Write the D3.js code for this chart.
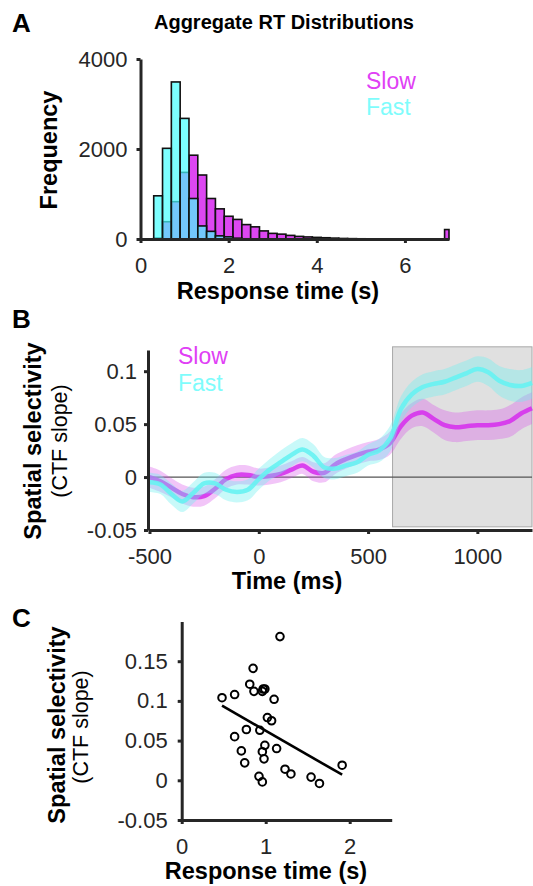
<!DOCTYPE html>
<html>
<head>
<meta charset="utf-8">
<script src="https://cdn.jsdelivr.net/npm/d3@7"></script>
<style>
  body { margin: 0; background: #fff; }
  svg { display: block; }
</style>
</head>
<body>
<div id="chart"></div>
<script>
// ---------- data ----------
// A: aggregate RT histogram, 0.2 s bins starting at 0.3 s (last bin holds RTs >= 6.9 s)
const binWidth = 0.2;
const binStarts = d3.range(0.3, 7, 0.2);
const slowCounts = [20, 384, 830, 1480, 1862, 1422, 900, 670, 505, 435, 320, 270, 180, 125, 108, 80, 58,
                    46, 36, 28, 20, 12, 8, 5, 4, 3, 2, 2, 1, 1, 1, 0, 0, 210];
const fastCounts = [960, 2015, 3490, 2680, 900, 290, 170, 70, 48, 18, 5, 0, 0, 0, 0, 0, 0,
                    0, 0, 0, 0, 0, 0, 0, 0, 0, 0, 0, 0, 0, 0, 0, 0, 0];
const histXTicks = [0, 2, 4, 6];
const histYTicks = [0, 2000, 4000];

// B: CTF slope time course, slow vs fast trials
const timeMs = d3.range(-500, 1251, 50);
const slowMean = [0.000, -0.004, -0.010, -0.016, -0.019, -0.018, -0.011, -0.002, 0.002, 0.002, 0.000, 0.001,
                  0.003, 0.007, 0.011, 0.005, 0.004, 0.012, 0.017, 0.021, 0.024, 0.026, 0.032, 0.048,
                  0.058, 0.061, 0.055, 0.049, 0.047, 0.048, 0.049, 0.049, 0.050, 0.053, 0.060, 0.065];
const slowSE = [0.010, 0.010, 0.009, 0.009, 0.009, 0.009, 0.009, 0.009, 0.009, 0.009, 0.008, 0.008,
                0.008, 0.008, 0.008, 0.009, 0.009, 0.009, 0.009, 0.009, 0.009, 0.010, 0.011, 0.012,
                0.012, 0.013, 0.013, 0.014, 0.014, 0.014, 0.014, 0.014, 0.014, 0.015, 0.015, 0.015];
const fastMean = [-0.005, -0.007, -0.016, -0.023, -0.015, -0.006, -0.006, -0.012, -0.014, -0.012, -0.002, 0.007,
                  0.014, 0.021, 0.026, 0.020, 0.009, 0.008, 0.011, 0.014, 0.021, 0.025, 0.036, 0.064,
                  0.078, 0.085, 0.088, 0.090, 0.094, 0.098, 0.102, 0.099, 0.091, 0.087, 0.086, 0.089];
const fastSE = [0.009, 0.009, 0.010, 0.010, 0.010, 0.010, 0.010, 0.010, 0.010, 0.010, 0.010, 0.010,
                0.011, 0.011, 0.011, 0.011, 0.010, 0.010, 0.010, 0.010, 0.010, 0.011, 0.012, 0.012,
                0.012, 0.012, 0.012, 0.012, 0.012, 0.012, 0.012, 0.013, 0.014, 0.015, 0.015, 0.015];
const shadeWindow = [612, 1250];
const timeTicks = [-500, 0, 500, 1000];
const slopeTicksB = [-0.05, 0, 0.05, 0.1];

// C: per-subject median RT vs CTF slope
const subjRT = [1.17, 0.85, 0.81, 0.86, 0.97, 0.99, 0.96, 1.10, 0.63, 0.48, 1.02, 1.07, 0.77, 0.93,
                0.63, 0.99, 0.96, 1.13, 0.71, 0.98, 0.75, 1.23, 1.30, 0.92, 0.96, 1.54, 1.64, 1.91];
const subjSlope = [0.181, 0.141, 0.121, 0.112, 0.115, 0.115, 0.112, 0.102, 0.108, 0.104, 0.079, 0.075, 0.064, 0.063,
                   0.055, 0.044, 0.036, 0.040, 0.037, 0.027, 0.022, 0.014, 0.008, 0.005, -0.002, 0.004, -0.004, 0.019];
const fitRT = [0.48, 1.91];
const fitSlope = [0.094, 0.007];
const rtTicksC = [0, 1, 2];
const slopeTicksC = [-0.05, 0, 0.05, 0.1, 0.15];

// ---------- setup ----------
const W = 533, H = 886;
const font = "'Liberation Sans', Arial, Helvetica, sans-serif";
const ink = "#262626";
const slowColor = "#e040f5";
const fastColor = "#7ffcfc";

const svg = d3.select("#chart").append("svg")
  .attr("width", W).attr("height", H)
  .attr("font-family", font);

function styleAxis(g) {
  g.attr("font-family", font).attr("font-size", 22);
  g.select(".domain").attr("stroke", ink).attr("stroke-width", 3);
  g.selectAll(".tick line").attr("stroke", ink).attr("stroke-width", 3);
  g.selectAll(".tick text").attr("fill", ink);
}

function label(x, y, txt, opts = {}) {
  const t = svg.append("text")
    .attr("x", x).attr("y", y)
    .attr("font-size", opts.size || 23.5)
    .attr("font-weight", opts.bold === false ? "normal" : "bold")
    .attr("text-anchor", opts.anchor || "middle")
    .attr("fill", opts.color || "#000")
    .text(txt);
  if (opts.rotate) t.attr("transform", `rotate(-90,${x},${y})`);
  return t;
}

const fmt = d => String(d).replace("\u2212", "-");

// ---------- Panel A ----------
const xA = d3.scaleLinear().domain([0, 7]).range([140.5, 449]).clamp(true);
const yA = d3.scaleLinear().domain([0, 4000]).range([239, 59]);

const histSlow = binStarts.map((s, i) => ({ s, n: slowCounts[i] })).filter(d => d.n > 0);
const histFast = binStarts.map((s, i) => ({ s, n: fastCounts[i] })).filter(d => d.n > 0);

const gA = svg.append("g");
gA.selectAll("rect.slow")
  .data(histSlow)
  .join("rect")
  .attr("class", "slow")
  .attr("x", d => xA(d.s))
  .attr("width", d => xA(d.s + binWidth) - xA(d.s))
  .attr("y", d => yA(d.n))
  .attr("height", d => yA(0) - yA(d.n))
  .attr("fill", "#dd47f2")
  .attr("stroke", "#111")
  .attr("stroke-width", 1.6);

gA.selectAll("rect.fast")
  .data(histFast)
  .join("rect")
  .attr("class", "fast")
  .attr("x", d => xA(d.s))
  .attr("width", d => xA(d.s + binWidth) - xA(d.s))
  .attr("y", d => yA(d.n))
  .attr("height", d => yA(0) - yA(d.n))
  .attr("fill", "rgb(70,255,255)")
  .attr("fill-opacity", 0.7)
  .attr("stroke", "#111")
  .attr("stroke-width", 1.6);

svg.append("g")
  .attr("transform", `translate(0,${yA(0)})`)
  .call(d3.axisBottom(xA).tickValues(histXTicks).tickSize(4).tickSizeOuter(0).tickPadding(14).tickFormat(fmt))
  .call(styleAxis);
svg.append("g")
  .attr("transform", `translate(${xA(0)},0)`)
  .call(d3.axisLeft(yA).tickValues(histYTicks).tickSize(4).tickSizeOuter(0).tickPadding(9).tickFormat(fmt))
  .call(styleAxis);

label(12, 32, "A", { size: 26, anchor: "start" });
label(284, 29, "Aggregate RT Distributions", { size: 20 });
label(57, 150, "Frequency", { rotate: true });
label(278, 299, "Response time (s)");
label(366, 89, "Slow", { size: 23, bold: false, anchor: "start", color: slowColor });
label(366, 115, "Fast", { size: 23, bold: false, anchor: "start", color: fastColor });

// ---------- Panel B ----------
const xB = d3.scaleLinear().domain([-500, 1250]).range([149.5, 532]);
const yB = d3.scaleLinear().domain([-0.05, 0.12]).range([530, 350]);

svg.append("rect")
  .attr("x", xB(shadeWindow[0]))
  .attr("y", yB(0.123))
  .attr("width", xB(shadeWindow[1]) - xB(shadeWindow[0]))
  .attr("height", yB(-0.047) - yB(0.123))
  .attr("fill", "#e0e0e0")
  .attr("stroke", "#a8a8a8")
  .attr("stroke-width", 1);

svg.append("line")
  .attr("x1", xB(-500)).attr("x2", xB(1250))
  .attr("y1", yB(0)).attr("y2", yB(0))
  .attr("stroke", "#555").attr("stroke-width", 1.2);

const series = [
  { mean: slowMean, se: slowSE, band: "#d84be8", bandOp: 0.32, line: "#d633ec" },
  { mean: fastMean, se: fastSE, band: "#6ff0f0", bandOp: 0.38, line: "#66f2f2" }
];
const curve = d3.curveCatmullRom.alpha(0.5);
series.forEach(s => {
  const pts = timeMs.map((t, i) => ({ t, m: s.mean[i], e: s.se[i] }));
  svg.append("path")
    .datum(pts)
    .attr("d", d3.area().curve(curve).x(d => xB(d.t)).y0(d => yB(d.m - d.e)).y1(d => yB(d.m + d.e)))
    .attr("fill", s.band)
    .attr("fill-opacity", s.bandOp);
  svg.append("path")
    .datum(pts)
    .attr("d", d3.line().curve(curve).x(d => xB(d.t)).y(d => yB(d.m)))
    .attr("fill", "none")
    .attr("stroke", s.line)
    .attr("stroke-width", 4.5)
    .attr("stroke-opacity", 0.9);
});

svg.append("g")
  .attr("transform", `translate(0,${yB(-0.05)})`)
  .call(d3.axisBottom(xB).tickValues(timeTicks).tickSize(4).tickSizeOuter(0).tickPadding(14).tickFormat(fmt))
  .call(styleAxis);
svg.append("g")
  .attr("transform", `translate(${xB(-500) - 1.5},0)`)
  .call(d3.axisLeft(yB).tickValues(slopeTicksB).tickSize(4).tickSizeOuter(0).tickPadding(7).tickFormat(fmt))
  .call(styleAxis);

label(12, 328, "B", { size: 26, anchor: "start" });
label(41, 441, "Spatial selectivity", { rotate: true });
label(67, 441, "(CTF slope)", { rotate: true, bold: false, size: 21.5 });
label(287, 589, "Time (ms)");
label(178, 364, "Slow", { size: 23, bold: false, anchor: "start", color: slowColor });
label(178, 391, "Fast", { size: 23, bold: false, anchor: "start", color: fastColor });

// ---------- Panel C ----------
const xC = d3.scaleLinear().domain([0, 2.5]).range([181.7, 391.7]);
const yC = d3.scaleLinear().domain([-0.05, 0.2]).range([820, 621.5]);

svg.append("line")
  .attr("x1", xC(fitRT[0])).attr("x2", xC(fitRT[1]))
  .attr("y1", yC(fitSlope[0])).attr("y2", yC(fitSlope[1]))
  .attr("stroke", "#000").attr("stroke-width", 2.6);

svg.append("g")
  .selectAll("circle")
  .data(subjRT.map((r, i) => ({ r, s: subjSlope[i] })))
  .join("circle")
  .attr("cx", d => xC(d.r))
  .attr("cy", d => yC(d.s))
  .attr("r", 3.8)
  .attr("fill", "none")
  .attr("stroke", "#000")
  .attr("stroke-width", 2);

svg.append("g")
  .attr("transform", `translate(0,${yC(-0.05)})`)
  .call(d3.axisBottom(xC).tickValues(rtTicksC).tickSize(4).tickSizeOuter(0).tickPadding(14).tickFormat(fmt))
  .call(styleAxis);
svg.append("g")
  .attr("transform", `translate(${xC(0)},0)`)
  .call(d3.axisLeft(yC).tickValues(slopeTicksC).tickSize(4).tickSizeOuter(0).tickPadding(10).tickFormat(fmt))
  .call(styleAxis);

label(12, 627, "C", { size: 26, anchor: "start" });
label(65, 725, "Spatial selectivity", { rotate: true });
label(88, 727, "(CTF slope)", { rotate: true, bold: false, size: 21.5 });
label(266, 879, "Response time (s)");
</script>
</body>
</html>
